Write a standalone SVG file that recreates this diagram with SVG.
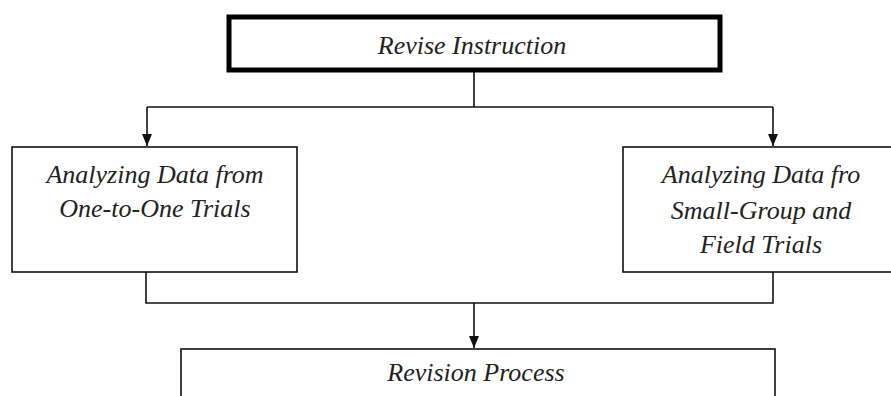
<svg xmlns="http://www.w3.org/2000/svg" width="891" height="396" viewBox="0 0 891 396">
<style>
.box{fill:#fff;stroke:#111;stroke-width:1.6}
.thick{fill:#fff;stroke:#000;stroke-width:5}
.t{font-family:'Liberation Serif','DejaVu Serif',serif;font-style:italic;font-size:26px;fill:#222;text-anchor:middle}
.c{fill:none;stroke:#111;stroke-width:1.6}
</style>
<defs>
<marker id="ah" markerWidth="12" markerHeight="10" refX="12" refY="5" orient="auto" markerUnits="userSpaceOnUse" viewBox="0 0 12 10">
<path d="M0,0 L12,5 L0,10 Z" fill="#111"/>
</marker>
</defs>
<rect width="891" height="396" fill="#fff"/>
<g id="connectors">
<path class="c" d="M474,71 V107 M147,107 H773"/>
<path class="c" d="M147,107 V146" marker-end="url(#ah)"/>
<path class="c" d="M773,107 V146" marker-end="url(#ah)"/>
<path class="c" d="M146,272 V303 H773 V272"/>
<path class="c" d="M474,303 V348" marker-end="url(#ah)"/>
</g>
<g id="revise">
<rect class="thick" x="229" y="17" width="491" height="53"/>
<text class="t" x="472" y="54">Revise Instruction</text>
</g>
<g id="one-to-one">
<rect class="box" x="12" y="147" width="285" height="125"/>
<text class="t" x="155" y="183">Analyzing Data from</text>
<text class="t" x="155" y="217">One-to-One Trials</text>
</g>
<g id="small-group">
<rect class="box" x="623" y="147" width="280" height="125"/>
<text class="t" x="761" y="183">Analyzing Data fro</text>
<text class="t" x="761" y="219">Small-Group and</text>
<text class="t" x="761" y="253">Field Trials</text>
</g>
<g id="revision">
<rect class="box" x="181" y="349" width="594" height="60"/>
<text class="t" x="476" y="381">Revision Process</text>
</g>
</svg>
